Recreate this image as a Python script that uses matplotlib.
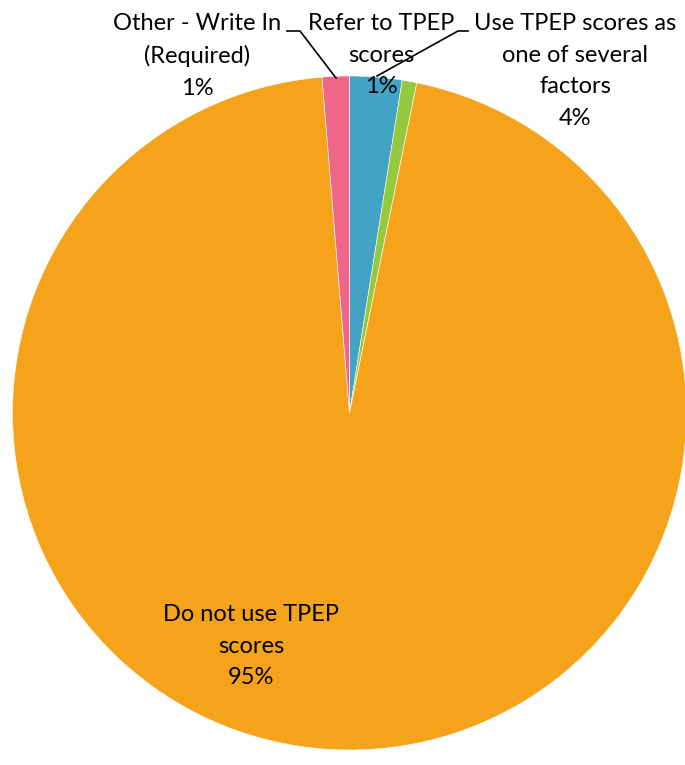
import matplotlib.pyplot as plt

# ==========================
# Dados do gráfico
# ==========================
categories = [
    "Use TPEP scores as\none of several\nfactors",
    "Refer to TPEP\nscores",
    "Do not use TPEP\nscores",
    "Other - Write In\n(Required)",
]
values = [2.5, 0.7, 95.5, 1.3]
pct_labels = ["4%", "1%", "95%", "1%"]
colors = ["#42A3C4", "#94C83D", "#F5A31A", "#F0668A"]

W, H = 685, 765


def pie_chart():
    fig = plt.figure(figsize=(W / 100, H / 100), dpi=100)
    ax = fig.add_axes([0, 0, 1, 1])

    cx, cy, r = 349.5, H - 413, 337
    ax.pie(values, colors=colors, startangle=90, counterclock=False,
           center=(cx, cy), radius=r, frame=True,
           wedgeprops=dict(edgecolor="white", linewidth=0.4))
    ax.set_xlim(0, W)
    ax.set_ylim(0, H)
    ax.set_axis_off()

    font = dict(family="Lato", fontsize=17, ha="center", va="top",
                linespacing=1.62, color="black")

    # label positions (pixel coords from top)
    ax.text(575, H - 13, categories[0] + "\n" + pct_labels[0], **font)
    ax.text(381, H - 13, categories[1] + "\n" + pct_labels[1], **font)
    ax.text(251, H - 604, categories[2] + "\n" + pct_labels[2], **font)
    ax.text(197, H - 13, categories[3] + "\n" + pct_labels[3], **font)

    # leader lines
    ax.plot([468, 458, 377], [H - 31, H - 31, H - 76], color="black", lw=1.2)
    ax.plot([287, 300, 336], [H - 31, H - 31, H - 78], color="black", lw=1.2)

    fig.savefig("out.png", dpi=100)


if __name__ == "__main__":
    pie_chart()
